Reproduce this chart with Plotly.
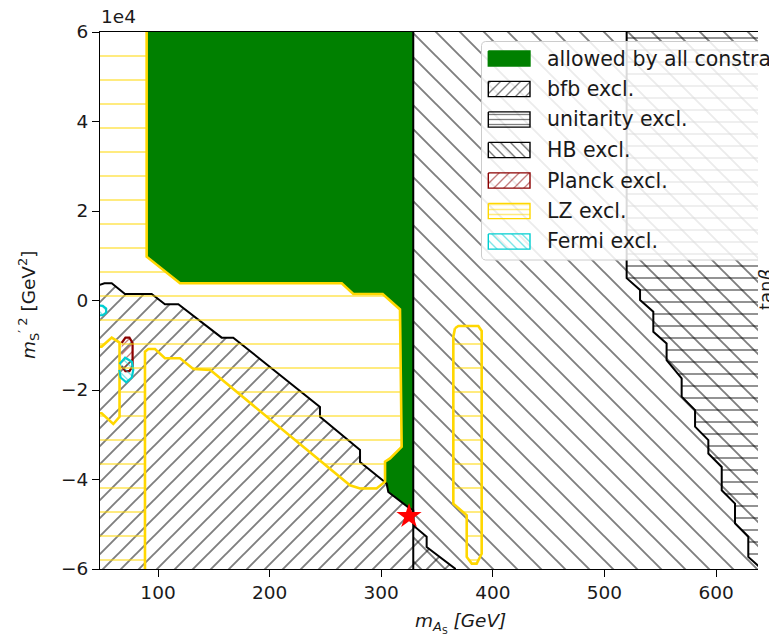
import numpy as np
import plotly.graph_objects as go

# ---------------- axis limits (x in GeV, y in units of 1e4 GeV^2) ----------------
X_MIN, X_MAX = 48.0, 637.6
Y_MIN, Y_MAX = -6.0, 6.0
XL, XR = X_MIN - 25, X_MAX + 25      # points outside the frame (edges hidden)
YB, YT = Y_MIN - 1, Y_MAX + 1

x_tickvals = [100, 200, 300, 400, 500, 600]
y_tickvals = [-6, -4, -2, 0, 2, 4, 6]
y_ticktext = ["\u22126", "\u22124", "\u22122", "0", "2", "4", "6"]

# ---------------- region boundaries ----------------
allowed_x = [89.8, 89.8, 119.7, 264.6, 275.0, 301.3, 316.8, 318.3, 307.9, 303.4, 303.4,
             306.3, 325.8, 328.7, 328.7]
allowed_y = [YT, 0.98, 0.385, 0.385, 0.145, 0.145, -0.20, -3.27, -3.53, -3.60, -4.05,
             -4.28, -4.65, -4.69, YT]

bfb_x = [XL, 48.0, 52.0, 58.5, 70.4, 94.3, 106.2, 118.2, 157.0, 167.4, 245.1, 245.1, 281.0,
         281.0, 304.9, 306.3, 325.8, 328.7, 329.0, 330.3, 340.7, 340.7, 366.1, 370.0, XL]
bfb_y = [0.35, 0.35, 0.385, 0.385, 0.145, 0.145, -0.085, -0.085, -0.83, -0.83, -2.38, -2.60,
         -3.34, -3.61, -4.09, -4.28, -4.65, -4.69, -5.00, -5.06, -5.28, -5.51, -5.99, YB, YB]

hb_x = [328.7, 328.7, XR, XR]
hb_y = [YT, YB, YB, YT]

uni_x = [519.9, 519.9, 531.9, 531.9, 543.8, 543.8, 555.7, 555.7, 569.2, 569.2, 581.2, 581.2,
         593.1, 593.1, 605.1, 605.1, 617.0, 617.0, 628.9, 628.9, 641.0, XR, XR]
uni_y = [YT, 0.50, 0.235, 0.01, -0.25, -0.70, -0.96, -1.33, -1.74, -2.15, -2.45, -2.82,
         -3.12, -3.42, -3.72, -4.24, -4.54, -4.98, -5.28, -5.73, -6.0, YB, YT]

lz_x = [XL, 89.8, 89.8, 119.7, 264.6, 275.0, 301.3, 316.8, 318.3, 307.9, 303.4, 303.4, 295.8,
        281.0, 272.0, 146.6, 131.6, 119.7, 106.2, 97.3, 91.3, 88.3, 88.3, XL, XL, 49.5, 59.9,
        65.5, 65.5, 58.5, 49.5, XL]
lz_y = [YT, YT, 0.98, 0.385, 0.385, 0.145, 0.145, -0.20, -3.27, -3.53, -3.60, -4.05, -4.20,
        -4.20, -4.13, -1.55, -1.53, -1.29, -1.29, -1.085, -1.085, -1.145, YB, YB, -2.52, -2.52,
        -2.76, -2.60, -0.94, -0.83, -1.03, -1.03]

lz2_x = [366.1, 369.1, 387.0, 390.0, 390.0, 385.5, 381.1, 376.6, 376.6, 364.6, 364.6]
lz2_y = [-0.62, -0.57, -0.57, -0.68, -5.66, -5.88, -5.88, -5.73, -4.80, -4.54, -0.81]

planck_x = [67.4, 70.8, 74.4, 77.2, 77.2, 74.4, 70.8, 67.4]
planck_y = [-0.95, -0.83, -0.83, -0.95, -1.47, -1.58, -1.58, -1.47]

fermi_x = [65.5, 70.5, 76.5, 77.8, 76.5, 71.5, 66.5, 65.3]
fermi_y = [-1.42, -1.28, -1.37, -1.55, -1.72, -1.83, -1.72, -1.55]

fermi2_x = [44.0, 50.5, 53.5, 53.5, 50.5, 44.0]
fermi2_y = [-0.10, -0.12, -0.18, -0.27, -0.33, -0.33]

star_x = [324.9]
star_y = [-4.82]

legend_labels = ["allowed by all constraints", "bfb excl.", "unitarity excl.", "HB excl.",
                 "Planck excl.", "LZ excl.", "Fermi excl."]

# ---------------- styles ----------------
GREEN = "#008000"
GOLD = "#FFD700"
DARKRED = "#8B0000"
CYAN = "#00CED1"
FONT = "DejaVu Sans"
TXT = "#1a1a1a"
NONE = "rgba(0,0,0,0)"
SQ2 = np.sqrt(2.0)

# plot area in page pixels
L, R, T, B = 100, 758, 32, 569
W, H = 769, 637
LZ_STEP = 24               # LZ hatch spacing (px); its lines sit on whole steps from the top
LZ_SHIFT = LZ_STEP // 2    # shift of the LZ hatch layer so the phase matches


def fx(px):
    return (px - L) / (R - L)


def fy(py):
    return (B - py) / (B - T)


fig = go.Figure()


def region(xs, ys, shape=None, color="black", size=10, solidity=0.1, lw=2.0,
           fillcolor=NONE, xaxis="x", yaxis="y", fill="toself"):
    kw = {}
    if shape is not None:
        kw["fillpattern"] = dict(shape=shape, fgcolor=color, bgcolor=NONE,
                                 size=size, solidity=solidity)
    fig.add_trace(go.Scatter(
        x=xs, y=ys, mode="lines", fill=fill, fillcolor=fillcolor,
        line=dict(color=color, width=lw), hoverinfo="skip", showlegend=False,
        xaxis=xaxis, yaxis=yaxis, **kw))


def diag(tile, width):
    """size/solidity for a diagonal hatch with an integer tile (px) and line width (px)"""
    s = tile / SQ2
    return s, width / s


# allowed (solid green)
region(allowed_x, allowed_y, None, GREEN, lw=0, fillcolor=GREEN)
# bfb
s, so = diag(18, 1.9)
region(bfb_x, bfb_y, "/", "black", size=s, solidity=so, lw=2.0)
# unitarity
region(uni_x, uni_y, "-", "black", size=12, solidity=1.7 / 12, lw=2.0)
# HB
s, so = diag(24, 1.9)
region(hb_x, hb_y, "\\", "black", size=s, solidity=so, lw=2.0)
# Planck
s, so = diag(8, 1.3)
region(planck_x, planck_y, "/", DARKRED, size=s, solidity=so, lw=2.2)
# LZ boundaries (lines only here, hatch on shifted layer below)
region(lz_x, lz_y, None, GOLD, lw=2.6, fill="none")
region(lz2_x + lz2_x[:1], lz2_y + lz2_y[:1], None, GOLD, lw=2.6, fill="none")
# Fermi
s, so = diag(8, 1.3)
region(fermi_x, fermi_y, "\\", CYAN, size=s, solidity=so, lw=2.2)
region(fermi2_x, fermi2_y, "\\", CYAN, size=s, solidity=so, lw=2.2)

fig.add_trace(go.Scatter(x=star_x, y=star_y, mode="markers",
                         marker=dict(symbol="star", size=19, color="red", line=dict(width=0)),
                         cliponaxis=False, hoverinfo="skip", showlegend=False))

# LZ hatch on a layer whose top is shifted down (same data mapping)
region(lz_x, lz_y, "-", GOLD, size=LZ_STEP, solidity=2.0 / LZ_STEP, lw=0,
       xaxis="x2", yaxis="y2")
region(lz2_x, lz2_y, "-", GOLD, size=LZ_STEP, solidity=2.0 / LZ_STEP, lw=0,
       xaxis="x2", yaxis="y2")


# ---------------- hand-made legend in an overlay drawn in page pixels ----------------
def rounded_rect(x0, y0, x1, y1, r):
    xs, ys = [], []
    corners = [(x1 - r, y0 + r, -90, 0), (x1 - r, y1 - r, 0, 90),
               (x0 + r, y1 - r, 90, 180), (x0 + r, y0 + r, 180, 270)]
    for cx, cy, a0, a1 in corners:
        t = np.radians(np.linspace(a0, a1, 6))
        xs += list(cx + r * np.cos(t))
        ys += list(cy + r * np.sin(t))
    return xs + [xs[0]], ys + [ys[0]]


bx, by = rounded_rect(481.5, 41.5, 800, 260, 4)
fig.add_trace(go.Scatter(x=bx, y=by, mode="lines", fill="toself",
                         fillcolor="rgba(255,255,255,0.85)",
                         line=dict(color="#cccccc", width=1), hoverinfo="skip",
                         showlegend=False, xaxis="x3", yaxis="y3"))

d_s, d_so = diag(10, 1.4)
patch_styles = [
    (None, GREEN, 0, 0, GREEN),
    ("/", "black", d_s, d_so, NONE),
    ("-", "black", 5, 1.3 / 5, NONE),
    ("\\", "black", d_s, d_so, NONE),
    ("/", DARKRED, d_s, d_so, NONE),
    ("-", GOLD, 5, 1.5 / 5, NONE),
    ("\\", CYAN, d_s, d_so, NONE),
]
annotations = []
for i, (lab, st) in enumerate(zip(legend_labels, patch_styles)):
    yc = 58.5 + 30.5 * i
    shape, col, sz, sol, fc = st
    px0, px1 = 488.3, 530.0
    py0, py1 = yc - 7.6, yc + 7.6
    region([px0, px1, px1, px0, px0], [py0, py0, py1, py1, py0], shape, col, size=sz,
           solidity=sol, lw=1.4, fillcolor=fc, xaxis="x3", yaxis="y3")
    annotations.append(dict(x=fx(544.5), y=fy(yc), xref="paper", yref="paper", text=lab,
                            showarrow=False, xanchor="left", yanchor="middle",
                            font=dict(family=FONT, size=20.5, color=TXT)))

# ---------------- axis annotations ----------------
annotations += [
    dict(x=fx(99), y=fy(17), xref="paper", yref="paper", text="1e4", showarrow=False,
         xanchor="left", yanchor="middle", font=dict(family=FONT, size=18.5, color=TXT)),
    dict(x=fx(460), y=fy(623), xref="paper", yref="paper",
         text="<i>m</i><sub><i>A</i><sub>S</sub></sub> <i>[GeV]</i>", showarrow=False,
         xanchor="center", yanchor="middle", font=dict(family=FONT, size=18.5, color=TXT)),
    dict(x=fx(28), y=fy(305), xref="paper", yref="paper", textangle=-90,
         text="<i>m</i><sub>S</sub><sup>\u2032 2</sup> [GeV<sup>2</sup>]", showarrow=False,
         xanchor="center", yanchor="middle", font=dict(family=FONT, size=18.5, color=TXT)),
    dict(x=fx(765), y=fy(290), xref="paper", yref="paper", textangle=-90,
         text="tan<i>\u03b2</i>", showarrow=False, xanchor="center", yanchor="middle",
         font=dict(family=FONT, size=18, color=TXT)),
]

axis_common = dict(showgrid=False, zeroline=False, ticks="outside", ticklen=7, tickwidth=1.2,
                   tickcolor="black", showline=True, linecolor="black", linewidth=1.2,
                   tickfont=dict(family=FONT, size=18.5, color=TXT))

px_per_y = (B - T) / (Y_MAX - Y_MIN)
fig.update_layout(
    width=W, height=H,
    margin=dict(l=L, r=W - R, t=T, b=H - B, pad=0),
    paper_bgcolor="white", plot_bgcolor=NONE,
    showlegend=False,
    xaxis=dict(range=[X_MIN, X_MAX], tickvals=x_tickvals, mirror=True, **axis_common),
    yaxis=dict(range=[Y_MIN, Y_MAX], tickvals=y_tickvals, ticktext=y_ticktext, mirror=False,
               **axis_common),
    # shifted layer for the LZ hatch (identical data mapping, top moved down)
    xaxis2=dict(range=[X_MIN, X_MAX], domain=[0, 1], anchor="y2", visible=False),
    yaxis2=dict(range=[Y_MIN, Y_MAX - LZ_SHIFT / px_per_y],
                domain=[0, 1 - LZ_SHIFT / (B - T)], anchor="x2", visible=False),
    # legend layer in page pixels
    xaxis3=dict(range=[L, R], domain=[0, 1], anchor="y3", visible=False),
    yaxis3=dict(range=[B, T], domain=[0, 1], anchor="x3", visible=False),
    annotations=annotations,
)

fig.write_html("out.html")
